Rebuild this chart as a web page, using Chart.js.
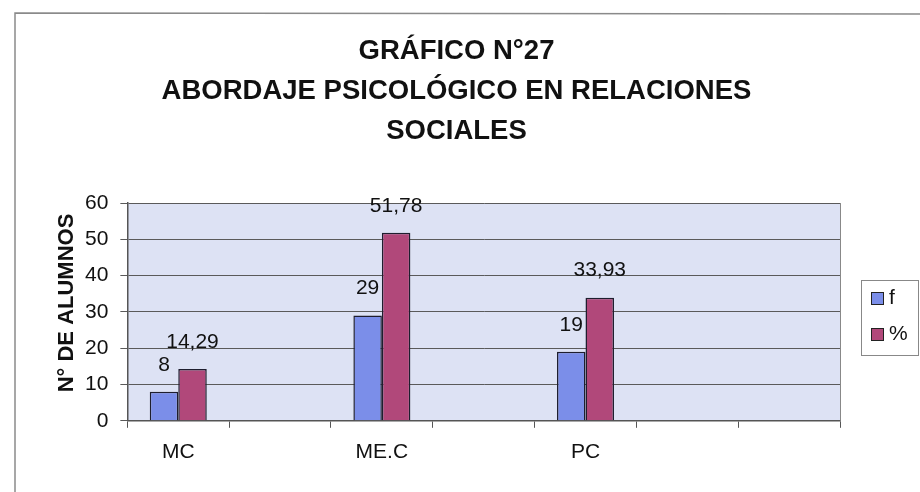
<!DOCTYPE html>
<html>
<head>
<meta charset="utf-8">
<script src="https://cdn.jsdelivr.net/npm/chart.js"></script>
<style>
  html, body { margin: 0; padding: 0; background: #fff; }
  #wrap { width: 920px; height: 492px; position: relative; }
</style>
</head>
<body>
<div id="wrap"><canvas id="chart"></canvas></div>
<script>
// categories (empty slots keep the original axis spacing)
const categories = ['MC', '', 'ME.C', '', 'PC', '', ''];
const seriesF = [8, null, 29, null, 19, null, null];
const seriesPct = [14.29, null, 51.78, null, 33.93, null, null];
const yTicks = [0, 10, 20, 30, 40, 50, 60];
const titleLines = ['GRÁFICO N°27', 'ABORDAJE PSICOLÓGICO EN RELACIONES', 'SOCIALES'];
const yTitle = 'N° DE ALUMNOS';

const FONT = "'Liberation Sans', Arial, sans-serif";

// lavender plot background, border, frame lines, y title and legend
const decor = {
  id: 'decor',
  beforeDraw(chart) {
    const { ctx, chartArea: a } = chart;
    ctx.save();
    ctx.fillStyle = '#dde2f4';
    ctx.fillRect(a.left, a.top, a.right - a.left, a.bottom - a.top);
    ctx.strokeStyle = '#8a8a8a';
    ctx.lineWidth = 1.5;
    ctx.beginPath();
    ctx.moveTo(920, 14);
    ctx.lineTo(15, 13);
    ctx.lineTo(15, 492);
    ctx.stroke();
    ctx.restore();
  },
  afterDraw(chart) {
    const { ctx, chartArea: a } = chart;
    ctx.save();
    ctx.strokeStyle = '#888';
    ctx.lineWidth = 1;
    ctx.beginPath();
    ctx.moveTo(a.right + 0.5, a.top);
    ctx.lineTo(a.right + 0.5, a.bottom);
    ctx.stroke();

    // rotated axis title
    ctx.save();
    ctx.translate(67, 303);
    ctx.rotate(-Math.PI / 2);
    ctx.font = 'bold 22px ' + FONT;
    ctx.fillStyle = '#111';
    ctx.textAlign = 'center';
    ctx.textBaseline = 'middle';
    ctx.fillText(yTitle, 0, 0);
    ctx.restore();

    // legend box
    ctx.fillStyle = '#fff';
    ctx.strokeStyle = '#888';
    ctx.fillRect(861, 280, 57, 75);
    ctx.strokeRect(861.5, 280.5, 57, 75);
    chart.data.datasets.forEach((ds, i) => {
      const y = 298 + i * 36;
      ctx.fillStyle = ds.backgroundColor;
      ctx.fillRect(871, y - 6, 12, 12);
      ctx.strokeStyle = '#222';
      ctx.strokeRect(871.5, y - 5.5, 12, 12);
      ctx.fillStyle = '#111';
      ctx.font = '21px ' + FONT;
      ctx.textBaseline = 'middle';
      ctx.textAlign = 'left';
      ctx.fillText(ds.label, 889, y);
    });
    ctx.restore();
  }
};

// value labels above each bar
const barLabels = {
  id: 'barLabels',
  afterDatasetsDraw(chart) {
    const { ctx } = chart;
    ctx.save();
    ctx.font = '21px ' + FONT;
    ctx.fillStyle = '#111';
    ctx.textAlign = 'center';
    ctx.textBaseline = 'middle';
    chart.data.datasets.forEach((ds, i) => {
      chart.getDatasetMeta(i).data.forEach((bar, j) => {
        const v = ds.data[j];
        if (v === null) return;
        const txt = Number.isInteger(v) ? String(v) : v.toFixed(2).replace('.', ',');
        ctx.fillText(txt, bar.x, bar.y - 27);
      });
    });
    ctx.restore();
  }
};

new Chart(document.getElementById('chart'), {
  type: 'bar',
  data: {
    labels: categories,
    datasets: [
      {
        label: 'f',
        data: seriesF,
        backgroundColor: '#7b8ee9',
        borderColor: '#1e1e2e',
        borderWidth: 1.5
      },
      {
        label: '%',
        data: seriesPct,
        backgroundColor: '#b1487a',
        borderColor: '#1e1e2e',
        borderWidth: 1.5
      }
    ]
  },
  options: {
    responsive: true,
    maintainAspectRatio: false,
    animation: false,
    categoryPercentage: 0.56,
    barPercentage: 1,
    layout: { padding: { top: 0, left: 73, right: 80, bottom: 15 } },
    plugins: {
      legend: { display: false },
      tooltip: { enabled: false },
      title: {
        display: true,
        text: titleLines,
        color: '#111',
        font: { family: FONT, size: 27.5, weight: 'bold', lineHeight: 1.455 },
        padding: { top: 31, bottom: 52 }
      }
    },
    scales: {
      x: {
        grid: { drawOnChartArea: false, drawTicks: true, tickLength: 7, color: '#555', offset: true },
        border: { display: true, color: '#555', width: 1.5 },
        ticks: { color: '#111', font: { family: FONT, size: 21 }, padding: 12, maxRotation: 0, autoSkip: false }
      },
      y: {
        min: 0,
        max: 60,
        afterBuildTicks(scale) { scale.ticks = yTicks.map(v => ({ value: v })); },
        grid: { color: '#5a5a5a', lineWidth: 1, tickLength: 7 },
        border: { display: true, color: '#555', width: 1.5 },
        ticks: { color: '#111', font: { family: FONT, size: 21 }, padding: 12 }
      }
    }
  },
  plugins: [decor, barLabels]
});
</script>
</body>
</html>
